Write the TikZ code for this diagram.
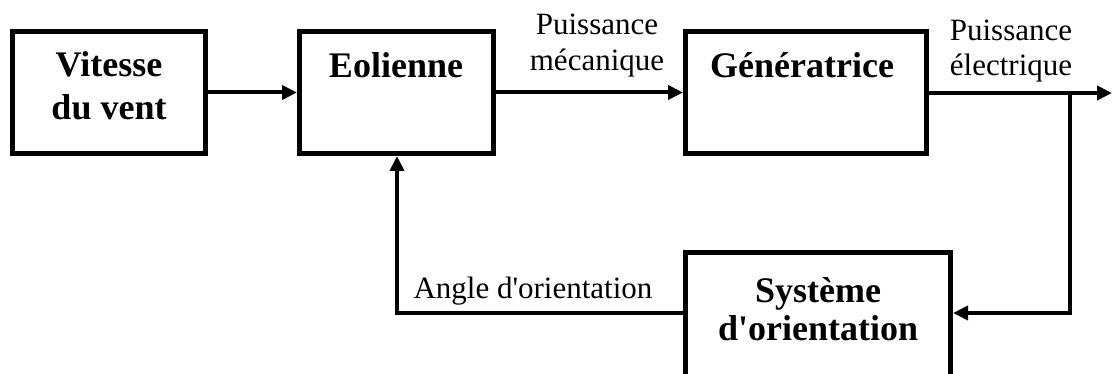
\documentclass[tikz,border=0pt]{standalone}
\usepackage{fontspec}
\setmainfont{Liberation Serif}
\usetikzlibrary{arrows.meta}
\newcommand{\sq}{\textquotesingle}
\begin{document}
\begin{tikzpicture}[x=1pt,y=-1pt,
  blockbox/.style={draw=black,line width=5pt,inner sep=0pt,minimum height=122pt},
  btext/.style={anchor=base,inner sep=0pt,font=\fontsize{36}{43}\selectfont\bfseries},
  ltext/.style={anchor=base,inner sep=0pt,font=\fontsize{31}{36}\selectfont},
  conn/.style={draw=black,line width=4pt,-{Triangle[length=15pt,width=14pt]}},
  wire/.style={draw=black,line width=4pt}]
\useasboundingbox (0,0) rectangle (1113,374);
% blocks
\node[blockbox,minimum width=193pt] (b1) at (109,92.5) {};
\node[blockbox,minimum width=194pt] (b2) at (396.5,92.5) {};
\node[blockbox,minimum width=241pt] (b3) at (806,92.5) {};
\node[blockbox,minimum width=265pt,minimum height=125pt] (b4) at (818,315) {};
% block texts
\node[btext] (t1a) at (109,77) {Vitesse};
\node[btext] (t1b) at (109,120) {du vent};
\node[btext] (t2) at (396,78) {Eolienne};
\node[btext] (t3) at (802,78) {Génératrice};
\node[btext] (t4a) at (818,302) {Système};
\node[btext] (t4b) at (818,340) {d\sq orientation};
% labels
\node[ltext] (l1a) at (597,35) {Puissance};
\node[ltext] (l1b) at (597,71) {mécanique};
\node[ltext] (l2a) at (1011,41) {Puissance};
\node[ltext] (l2b) at (1011,76) {électrique};
\node[ltext] (l3) at (533,298) {Angle d\sq orientation};
% coordinates
\coordinate (out) at (1112,93);
\coordinate (br) at (1070,93);
\coordinate (brd) at (1070,313);
\coordinate (fb) at (397,313);
% connectors
\draw[conn] (b1.east) -- (b2.west);
\draw[conn] (b2.east) -- (b3.west);
\draw[conn] (b3.east |- out) -- (out);
\draw[conn] (br) -- (brd) -- (b4.east |- brd);
\draw[conn] (b4.west |- fb) -- (fb) -- (b2.south -| fb);
\end{tikzpicture}
\end{document}
